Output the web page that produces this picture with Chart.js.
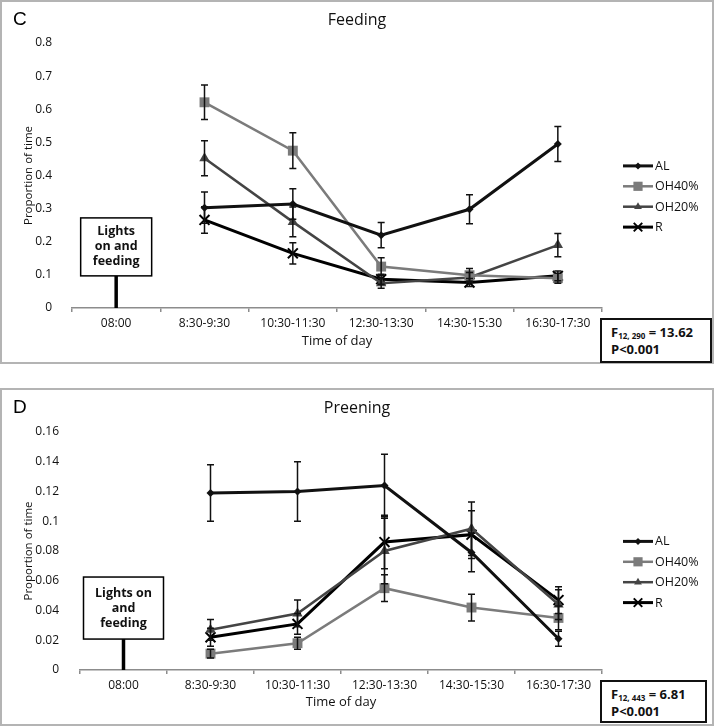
<!DOCTYPE html>
<html>
<head>
<meta charset="utf-8">
<title>Feeding and preening</title>
<script src="https://cdn.jsdelivr.net/npm/chart.js@4.4.1/dist/chart.umd.min.js"></script>
<style>
  body { margin: 0; background: #fff; }
  #page { position: relative; width: 714px; height: 726px; overflow: hidden; font-family: "Open Sans", sans-serif; }
  .panel { position: absolute; left: 0; width: 714px; }
  #wrapC { top: 0; height: 364px; }
  #wrapD { top: 388px; height: 338px; }
  .frame { position: absolute; left: 0; top: 0; width: 714px; height: 100%; border: 2px solid #b4b4b4; box-sizing: border-box; }
  canvas { position: absolute; left: 0; top: 0; }
  .fbox { position: absolute; background: #fff; border: 2px solid #111; box-sizing: border-box;
          font: bold 13px "Open Sans", sans-serif; color: #111; line-height: 17px; padding: 4px 0 0 9px; }
  .fbox sub { font-size: 8px; vertical-align: -2px; line-height: 0; }
</style>
</head>
<body>
<div id="page">
  <div class="panel" id="wrapC">
    <div class="frame"></div>
    <canvas id="chartC" width="714" height="364"></canvas>
    <div class="fbox" style="left:600px; top:318px; width:112px; height:45px;">F<sub>12, 290</sub> = 13.62<br>P&lt;0.001</div>
  </div>
  <div class="panel" id="wrapD">
    <div class="frame"></div>
    <canvas id="chartD" width="714" height="338"></canvas>
    <div class="fbox" style="left:600px; top:292px; width:107px; height:43px;">F<sub>12, 443</sub> = 6.81<br>P&lt;0.001</div>
  </div>
</div>
<script>
// categories (08:00 = lights on, no observations)
const timeLabels = ['08:00', '8:30-9:30', '10:30-11:30', '12:30-13:30', '14:30-15:30', '16:30-17:30'];
const groupNames = ['AL', 'OH40%', 'OH20%', 'R'];

// C - feeding, proportion of time
const feedAL   = [null, 0.303, 0.314, 0.220, 0.298, 0.495];
const feedOH40 = [null, 0.621, 0.475, 0.125, 0.099, 0.090];
const feedOH20 = [null, 0.452, 0.260, 0.075, 0.092, 0.190];
const feedR    = [null, 0.266, 0.165, 0.087, 0.077, 0.097];
// error bars (+/-)
const feedErrAL   = [null, 0.047, 0.046, 0.038, 0.044, 0.053];
const feedErrOH40 = [null, 0.052, 0.054, 0.027, 0.020, 0.015];
const feedErrOH20 = [null, 0.053, 0.045, 0.015, 0.015, 0.035];
const feedErrR    = [null, 0.040, 0.032, 0.015, 0.012, 0.015];

// D - preening, proportion of time
const preenAL   = [null, 0.119, 0.120, 0.124, 0.079, 0.021];
const preenOH40 = [null, 0.011, 0.018, 0.055, 0.042, 0.035];
const preenOH20 = [null, 0.027, 0.038, 0.080, 0.095, 0.044];
const preenR    = [null, 0.022, 0.031, 0.086, 0.091, 0.047];
const preenErrAL   = [null, 0.019, 0.020, 0.021, 0.013, 0.005];
const preenErrOH40 = [null, 0.003, 0.004, 0.009, 0.009, 0.008];
const preenErrOH20 = [null, 0.007, 0.009, 0.022, 0.018, 0.010];
const preenErrR    = [null, 0.006, 0.007, 0.018, 0.016, 0.009];

const FONT = '"Open Sans", sans-serif';
const TEXT = '#111';

// line / marker look per group
const groupStyles = [
  { color: '#111111', width: 3,   point: 'rectRot',  radius: 4,   border: 0, legendRadius: 3.5 },
  { color: '#7b7b7b', width: 2.5, point: 'rect',     radius: 7,   border: 0, legendRadius: 6.5 },
  { color: '#444444', width: 2.5, point: 'triangle', radius: 6,   border: 0, legendRadius: 4.5 },
  { color: '#000000', width: 3,   point: 'crossRot', radius: 7,   border: 2, legendRadius: 6 }
];

function makeDatasets(values) {
  return values.map((vals, i) => {
    const s = groupStyles[i];
    return {
      label: groupNames[i],
      data: vals,
      borderColor: s.color,
      backgroundColor: s.color,
      borderWidth: s.width,
      pointStyle: s.point,
      pointRadius: s.radius,
      pointBorderWidth: s.border,
      pointBackgroundColor: s.color,
      pointBorderColor: s.color,
      tension: 0,
      spanGaps: false
    };
  });
}

// error bars, panel letter, centred title, legend and the lights-on sign
function makePanelPlugin(extra) {
  return {
    id: 'panelExtras',
    afterDatasetsDraw(chart) {
      const ctx = chart.ctx, xs = chart.scales.x, ys = chart.scales.y;
      ctx.save();
      ctx.strokeStyle = '#111';
      ctx.lineWidth = 1.5;
      chart.data.datasets.forEach((ds, di) => {
        ds.data.forEach((v, i) => {
          const e = extra.errors[di][i];
          if (v == null || e == null) return;
          const px = xs.getPixelForValue(i);
          const t = ys.getPixelForValue(v + e), b = ys.getPixelForValue(v - e);
          ctx.beginPath();
          ctx.moveTo(px, t); ctx.lineTo(px, b);
          ctx.moveTo(px - 3.5, t); ctx.lineTo(px + 3.5, t);
          ctx.moveTo(px - 3.5, b); ctx.lineTo(px + 3.5, b);
          ctx.stroke();
        });
      });
      ctx.restore();
    },
    afterDraw(chart) {
      const ctx = chart.ctx, xs = chart.scales.x, ys = chart.scales.y, area = chart.chartArea;
      ctx.save();
      // letter + title
      ctx.fillStyle = '#000';
      ctx.textBaseline = 'middle';
      ctx.textAlign = 'left';
      ctx.font = '19px "Liberation Sans", sans-serif';
      ctx.fillText(extra.letter, 13, 20);
      ctx.textAlign = 'center';
      ctx.font = '16px ' + FONT;
      ctx.fillStyle = TEXT;
      ctx.fillText(extra.title, chart.width / 2, 20);

      // legend: line with marker
      const midY = (area.top + area.bottom) / 2 + 21;
      chart.data.datasets.forEach((ds, i) => {
        const s = groupStyles[i];
        const y = midY + (i - 1.5) * 20.4;
        const x0 = area.right + 21, x1 = x0 + 30;
        ctx.strokeStyle = s.color;
        ctx.lineWidth = s.width;
        ctx.beginPath(); ctx.moveTo(x0, y); ctx.lineTo(x1, y); ctx.stroke();
        ctx.fillStyle = s.color;
        ctx.lineWidth = s.border;
        Chart.helpers.drawPoint(ctx, { pointStyle: s.point, radius: s.legendRadius, rotation: 0, borderWidth: s.border }, (x0 + x1) / 2, y);
        ctx.fillStyle = TEXT;
        ctx.textAlign = 'left';
        ctx.font = '12.5px ' + FONT;
        ctx.fillText(ds.label, x1 + 2, y + 0.5);
      });

      // lights on and feeding sign
      const L = extra.lights;
      const cx = xs.getPixelForValue(0);
      const top = ys.getPixelForValue(L.top), bot = ys.getPixelForValue(L.bottom);
      ctx.strokeStyle = '#000';
      ctx.lineWidth = 3.5;
      ctx.beginPath(); ctx.moveTo(cx, bot); ctx.lineTo(cx, ys.getPixelForValue(0)); ctx.stroke();
      ctx.fillStyle = '#fff';
      ctx.fillRect(cx - L.width / 2, top, L.width, bot - top);
      ctx.lineWidth = 1.5;
      ctx.strokeRect(cx - L.width / 2, top, L.width, bot - top);
      ctx.fillStyle = TEXT;
      ctx.textAlign = 'center';
      ctx.font = 'bold 12.5px ' + FONT;
      const cy = (top + bot) / 2;
      L.lines.forEach((t, k) => ctx.fillText(t, cx, cy + (k - (L.lines.length - 1) / 2) * 15));
      ctx.restore();
    }
  };
}

function makeChart(id, opts) {
  return new Chart(document.getElementById(id), {
    type: 'line',
    data: { labels: timeLabels, datasets: makeDatasets(opts.values) },
    options: {
      responsive: false,
      animation: false,
      devicePixelRatio: 1,
      layout: { padding: opts.padding },
      plugins: { legend: { display: false }, title: { display: false }, tooltip: { enabled: false } },
      scales: {
        x: {
          offset: true,
          grid: { display: true, drawOnChartArea: false, drawTicks: true, tickLength: 4, color: '#8c8c8c', lineWidth: 1.5, offset: true },
          border: { display: true, color: '#8c8c8c', width: 1.5 },
          ticks: { color: TEXT, font: { family: FONT, size: 12 }, padding: 4, maxRotation: 0, autoSkip: false },
          title: { display: true, text: 'Time of day', color: TEXT, font: { family: FONT, size: 13 }, padding: { top: 4, bottom: 4 } },
          afterFit: s => { s.height = opts.xHeight; }
        },
        y: {
          min: 0,
          max: opts.yMax,
          grid: { display: false },
          border: { display: false },
          ticks: {
            stepSize: opts.yStep,
            padding: opts.yPad,
            color: TEXT,
            font: { family: FONT, size: 12 },
            callback: v => String(Math.round(v * 100) / 100)
          },
          title: { display: true, text: 'Proportion of time', color: TEXT, font: { family: FONT, size: 11.5 }, padding: { top: 22, bottom: 0 } },
          afterFit: s => { s.width = opts.yWidth; }
        }
      }
    },
    plugins: [makePanelPlugin(opts.extra)]
  });
}

makeChart('chartC', {
  values: [feedAL, feedOH40, feedOH20, feedR],
  padding: { top: 43, right: 112, bottom: 11, left: 0 },
  xHeight: 45, yWidth: 72, yPad: 12, yMax: 0.8, yStep: 0.1,
  extra: {
    letter: 'C', title: 'Feeding',
    errors: [feedErrAL, feedErrOH40, feedErrOH20, feedErrR],
    lights: { lines: ['Lights', 'on and', 'feeding'], top: 0.272, bottom: 0.097, width: 71 }
  }
});

makeChart('chartD', {
  values: [preenAL, preenOH40, preenOH20, preenR],
  padding: { top: 44, right: 112, bottom: 12, left: 0 },
  xHeight: 44, yWidth: 80, yPad: 13, yMax: 0.16, yStep: 0.02,
  extra: {
    letter: 'D', title: 'Preening',
    errors: [preenErrAL, preenErrOH40, preenErrOH20, preenErrR],
    lights: { lines: ['Lights on', 'and', 'feeding'], top: 0.0625, bottom: 0.0208, width: 80 }
  }
});
</script>
</body>
</html>
